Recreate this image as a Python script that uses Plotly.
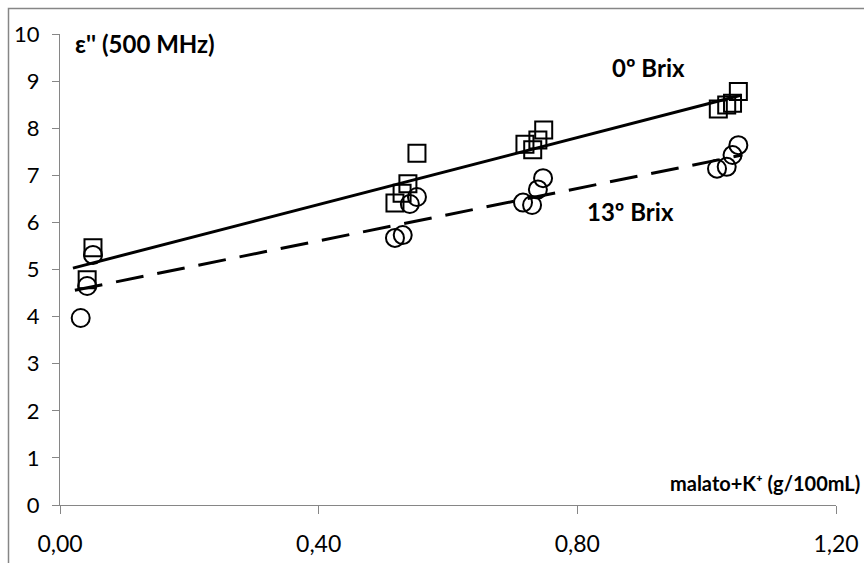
import plotly.graph_objects as go

# 0º Brix (squares)
brix0_x = [0.051, 0.042, 0.518, 0.529, 0.538, 0.552, 0.719, 0.731, 0.739, 0.748, 1.018, 1.031, 1.040, 1.049]
brix0_y = [5.46, 4.78, 6.41, 6.62, 6.82, 7.47, 7.66, 7.54, 7.75, 7.96, 8.41, 8.49, 8.53, 8.78]
# 13º Brix (circles)
brix13_x = [0.051, 0.042, 0.032, 0.518, 0.530, 0.541, 0.552, 0.716, 0.730, 0.739, 0.747, 1.016, 1.031, 1.040, 1.049]
brix13_y = [5.31, 4.65, 3.97, 5.67, 5.73, 6.39, 6.54, 6.42, 6.37, 6.70, 6.94, 7.14, 7.18, 7.43, 7.64]
# trend lines (read endpoints)
trend0_x = [0.02, 1.053]
trend0_y = [5.03, 8.70]
trend13_x = [0.023, 1.055]
trend13_y = [4.56, 7.43]

x_ticks = [0.0, 0.4, 0.8, 1.2]
x_ticktext = ["0,00", "0,40", "0,80", "1,20"]
y_ticks = list(range(0, 11))

FONT = "Lato, 'Open Sans', sans-serif"
AX = "#868686"

fig = go.Figure()
fig.add_trace(go.Scatter(x=trend0_x, y=trend0_y, mode="lines",
                         line=dict(color="black", width=3), showlegend=False, hoverinfo="skip"))
fig.add_trace(go.Scatter(x=trend13_x, y=trend13_y, mode="lines",
                         line=dict(color="black", width=3, dash="28px,14px"), showlegend=False, hoverinfo="skip"))
fig.add_trace(go.Scatter(x=brix0_x, y=brix0_y, mode="markers",
                         marker=dict(symbol="square-open", size=17, color="black", line=dict(width=2, color="black")),
                         showlegend=False))
fig.add_trace(go.Scatter(x=brix13_x, y=brix13_y, mode="markers",
                         marker=dict(symbol="circle-open", size=18, color="black", line=dict(width=2, color="black")),
                         showlegend=False))

fig.update_layout(
    width=864, height=563,
    margin=dict(l=60, r=28, t=34, b=58),
    paper_bgcolor="white", plot_bgcolor="white",
    font=dict(family=FONT, size=23, color="black"),
    showlegend=False,
    xaxis=dict(range=[0, 1.2], tickvals=x_ticks, ticktext=x_ticktext, automargin=False,
               showgrid=False, zeroline=False, showline=True, linecolor=AX, linewidth=1,
               ticks="outside", ticklen=8, tickcolor=AX, tickwidth=1, ticklabelstandoff=10,
               tickfont=dict(family=FONT, size=23, color="black")),
    yaxis=dict(range=[0, 10], tickvals=y_ticks, automargin=False,
               showgrid=False, zeroline=False, showline=True, linecolor=AX, linewidth=1,
               ticks="outside", ticklen=7, tickcolor=AX, tickwidth=1, ticklabelstandoff=8,
               tickfont=dict(family=FONT, size=22, color="black")),
    shapes=[dict(type="rect", xref="paper", yref="paper",
                 x0=(8.5 - 60) / 776, x1=1.2, y0=-0.3, y1=(505 - 8.5) / 471,
                 line=dict(color=AX, width=1.5), fillcolor="rgba(0,0,0,0)", layer="below")],
    annotations=[
        dict(x=0.020, y=9.79, xref="x", yref="y", text="<b>ε'' (500 MHz)</b>", showarrow=False,
             xanchor="left", yanchor="middle", font=dict(family=FONT, size=24)),
        dict(x=0.850, y=9.28, xref="x", yref="y", text="<b>0º Brix</b>", showarrow=False,
             xanchor="left", yanchor="middle", font=dict(family=FONT, size=24)),
        dict(x=0.812, y=6.24, xref="x", yref="y", text="<b>13º Brix</b>", showarrow=False,
             xanchor="left", yanchor="middle", font=dict(family=FONT, size=24)),
        dict(x=(862 - 60) / 776, y=(505 - 483) / 471, xref="paper", yref="paper",
             text="<b>malato+K⁺ (g/100mL)</b>", showarrow=False,
             xanchor="right", yanchor="middle", font=dict(family=FONT, size=20)),
    ],
)

fig.write_html("out.html")
